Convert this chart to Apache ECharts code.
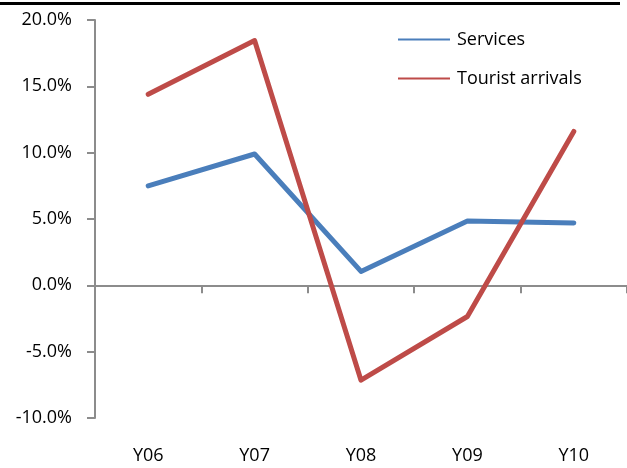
<!DOCTYPE html>
<html>
<head>
<meta charset="utf-8">
<script src="https://cdn.jsdelivr.net/npm/echarts@6/dist/echarts.min.js"></script>
<style>
  html, body { margin: 0; padding: 0; background: #fff; }
  #chart { width: 627px; height: 468px; }
</style>
</head>
<body>
<div id="chart"></div>
<script>
// Annual growth rates, in percent
const years = ['Y06', 'Y07', 'Y08', 'Y09', 'Y10'];
const services = [7.5, 9.9, 1.05, 4.85, 4.7];
const touristArrivals = [14.4, 18.45, -7.15, -2.35, 11.6];
const yTicks = { min: -10, max: 20, step: 5 };

const FONT = 'Open Sans';
const chart = echarts.init(document.getElementById('chart'), null, { renderer: 'canvas' });

chart.setOption({
  animation: false,
  backgroundColor: '#ffffff',
  textStyle: { fontFamily: FONT },
  graphic: [{
    type: 'rect',
    shape: { x: 0, y: 2, width: 620, height: 3 },
    style: { fill: '#000000' }
  }],
  legend: {
    orient: 'vertical',
    left: 398,
    top: 29,
    padding: 0,
    itemWidth: 52,
    itemHeight: 2,
    itemGap: 18,
    icon: 'rect',
    textStyle: { fontFamily: FONT, fontSize: 18, color: '#000', padding: [0, 0, 0, 2], lineHeight: 21 },
    data: ['Services', 'Tourist arrivals']
  },
  grid: { left: 95, right: 0, top: 20, bottom: 50, containLabel: false, outerBoundsMode: 'none' },
  xAxis: {
    type: 'category',
    data: years,
    boundaryGap: true,
    axisLine: { onZero: true, lineStyle: { color: '#8c8c8c', width: 2 } },
    axisTick: { show: true, length: 8, inside: false, lineStyle: { color: '#8c8c8c', width: 2 } },
    axisLabel: { margin: 29, fontFamily: FONT, fontSize: 18, color: '#000' },
    splitLine: { show: false }
  },
  yAxis: {
    type: 'value',
    min: yTicks.min,
    max: yTicks.max,
    interval: yTicks.step,
    axisLine: { show: true, lineStyle: { color: '#8c8c8c', width: 2 } },
    axisTick: { show: true, length: 8, lineStyle: { color: '#8c8c8c', width: 2 } },
    axisLabel: {
      margin: 23,
      fontFamily: FONT,
      fontSize: 18,
      color: '#000',
      formatter: v => v.toFixed(1) + '%'
    },
    splitLine: { show: false }
  },
  series: [
    {
      name: 'Services',
      type: 'line',
      data: services,
      symbol: 'none',
      color: '#4a7ebb',
      lineStyle: { width: 5, color: '#4a7ebb', cap: 'round', join: 'round' },
      z: 3
    },
    {
      name: 'Tourist arrivals',
      type: 'line',
      data: touristArrivals,
      symbol: 'none',
      color: '#be4b48',
      lineStyle: { width: 5, color: '#be4b48', cap: 'round', join: 'round' },
      z: 4
    }
  ]
});
</script>
</body>
</html>
